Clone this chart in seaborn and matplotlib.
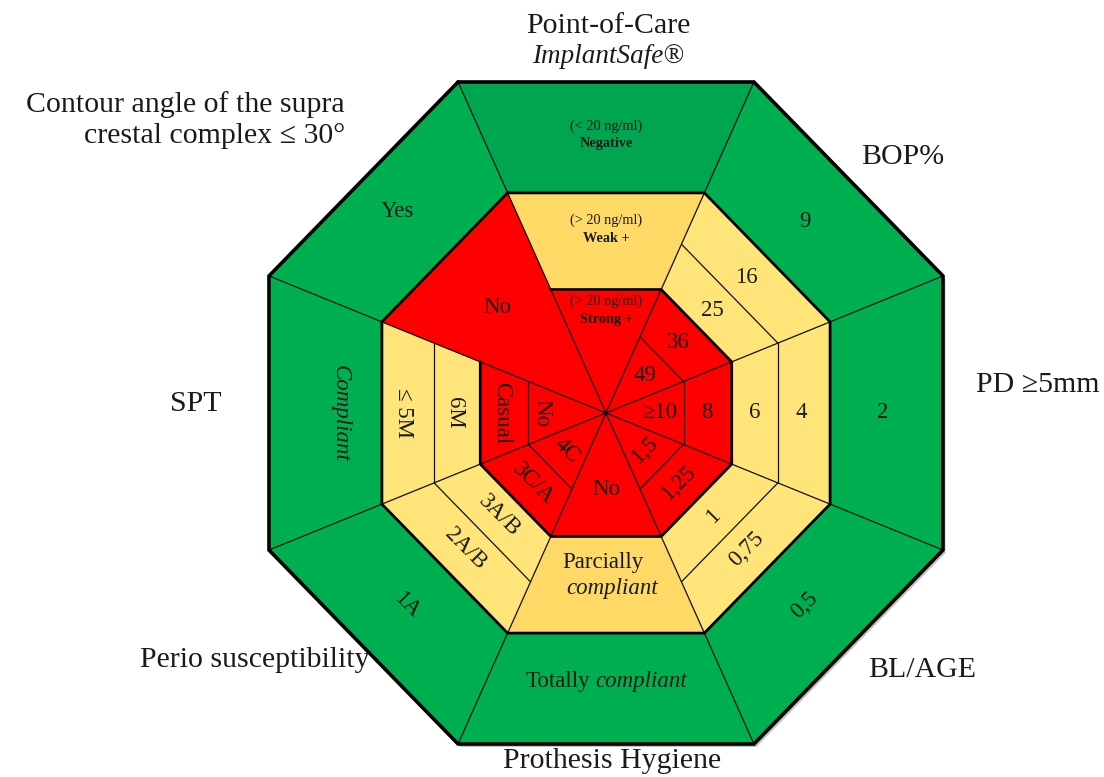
import numpy as np
import matplotlib
matplotlib.use("Agg")
import matplotlib.pyplot as plt
from matplotlib.patches import Polygon
import seaborn as sns

# ---- data: one list per axis, cells from the centre outwards ----
axis_names = ["Point-of-Care", "BOP%", "PD \u22655mm", "BL/AGE", "Prothesis Hygiene",
              "Perio susceptibility", "SPT",
              "Contour angle of the supra\ncrestal complex \u2264 30\u00b0"]
poc_labels = ["Strong +", "Weak +", "Negative"]
poc_ranges = ["(> 20 ng/ml)", "(> 20 ng/ml)", "(< 20 ng/ml)"]
bop_labels = ["49", "36", "25", "16", "9"]
pd_labels = ["\u226510", "8", "6", "4", "2"]
bl_age_labels = ["1,5", "1,25", "1", "0,75", "0,5"]
hygiene_labels = ["No", "Parcially compliant", "Totally compliant"]
perio_labels = ["4C", "3C/A", "3A/B", "2A/B", "1A"]
spt_labels = ["No", "Casual", "6M", "\u2264 5M", "Compliant"]
contour_labels = ["No", "Yes"]

# ---- layout ----
sns.set_theme(style="white")
plt.rcParams["font.family"] = ["Liberation Serif", "DejaVu Serif"]

cx, cy, sx, sy = 606, 413, 337, 331          # centre and half size in pixels
t_top, t_side = 0.439, 0.414                 # half lengths of the flat edges
unit = np.array([(-t_top, -1), (t_top, -1), (1, -t_side), (1, t_side),
                 (t_top, 1), (-t_top, 1), (-1, t_side), (-1, -t_side)])
ring = [0, 0.23, 0.373, 0.51, 0.665, 1.0]    # ring boundaries (apothem fraction)

RED, YELLOW, GOLD = "#FF0000", "#FFE47A", "#FFD966"
GREEN, GREEN_DARK = "#00B050", "#00A64F"
INK = "#1a1a1a"

# cells: (first band, last band, colour) for every sector
five = [(0, 1, RED), (1, 2, RED), (2, 3, YELLOW), (3, 4, YELLOW), (4, 5, GREEN)]
sector_cells = [
    [(0, 2, RED), (2, 4, GOLD), (4, 5, GREEN_DARK)],
    five, five, five,
    [(0, 2, RED), (2, 4, GOLD), (4, 5, GREEN)],
    five, five,
    [(0, 4, RED), (4, 5, GREEN)],
]
five_r = [0.16, 0.30, 0.44, 0.58, 0.82]
spt_r = [0.19, 0.31, 0.45, 0.60, 0.79]
label_r = [[0.31, 0.555, 0.84], five_r, five_r, five_r, [0.23, 0.49, 0.81],
           five_r, spt_r, [0.45, 0.86]]
label_rot = [0, 0, 0, 45, 0, -45, 270, 0]


def pts(r, idx):
    u = unit[np.array(idx) % 8] * r
    return np.column_stack([cx + sx * u[:, 0], cy + sy * u[:, 1]])


def anchor(k, r):
    m = (unit[k] + unit[(k + 1) % 8]) / 2
    return cx + sx * m[0] * r, cy + sy * m[1] * r


fig = plt.figure(figsize=(11.04, 7.77), dpi=100)
ax = fig.add_axes([0, 0, 1, 1])
ax.set_xlim(0, 1104)
ax.set_ylim(777, 0)
ax.axis("off")

# soft shadow under the octagon
shadow = pts(1.0, range(8)) + np.array([2.5, 3])
ax.add_patch(Polygon(shadow, closed=True, fc="#9a9a9a", ec="none", alpha=0.6, zorder=0))

for k, cells in enumerate(sector_cells):
    for a, b, col in cells:
        poly = np.vstack([pts(ring[a], [k, k + 1]), pts(ring[b], [k + 1, k])])
        ax.add_patch(Polygon(poly, closed=True, fc=col, ec=col, lw=0.4, zorder=1))

# thin lines: spokes and sub rings
for k in range(8):
    p = pts(1.0, [k])[0]
    ax.plot([cx, p[0]], [cy, p[1]], color="#111111", lw=0.9, zorder=2)
for k in [1, 2, 3, 5, 6]:
    for r in (ring[1], ring[3]):
        seg = pts(r, [k, k + 1])
        ax.plot(seg[:, 0], seg[:, 1], color="#111111", lw=0.9, zorder=2)

# thick rings
inner = pts(ring[2], range(8))
ax.plot(inner[:, 0], inner[:, 1], color="black", lw=2.0, zorder=3, solid_joinstyle="miter")
mid = pts(ring[4], list(range(8)) + [0])
ax.plot(mid[:, 0], mid[:, 1], color="black", lw=2.0, zorder=3, solid_joinstyle="miter")
outer = pts(1.0, list(range(8)) + [0])
ax.plot(outer[:, 0], outer[:, 1], color="black", lw=2.6, zorder=3, solid_joinstyle="miter")

renderer = fig.canvas.get_renderer()


def mixed_line(x, y, parts, size):
    objs = [ax.text(0, y, t, style=s, ha="left", va="center", fontsize=size,
                    color=INK, zorder=5) for t, s in parts]
    widths = [o.get_window_extent(renderer).width for o in objs]
    gap = size * 0.3
    start = x - (sum(widths) + gap * (len(objs) - 1)) / 2
    for o, w in zip(objs, widths):
        o.set_x(start)
        start += w + gap


lab_size = 16.5
plain = [None, bop_labels, pd_labels, bl_age_labels, None, perio_labels, spt_labels, contour_labels]
for k, labels in enumerate(plain):
    if labels is None:
        continue
    for lab, r in zip(labels, label_r[k]):
        x, y = anchor(k, r)
        italic = "italic" if lab == "Compliant" else "normal"
        ax.text(x, y, lab, ha="center", va="center", rotation=label_rot[k],
                rotation_mode="anchor", fontsize=lab_size, style=italic, color=INK, zorder=5)

# Point-of-Care cells: range line + bold result
for lab, rng, r in zip(poc_labels, poc_ranges, label_r[0]):
    x, y = anchor(0, r)
    ax.text(x, y - 9, rng, ha="center", va="center", fontsize=10.3, color=INK, zorder=5)
    ax.text(x, y + 9, lab, ha="center", va="center", fontsize=10.3, weight="bold", color=INK, zorder=5)

# Prothesis hygiene cells
x, y = anchor(4, label_r[4][0])
ax.text(x, y, hygiene_labels[0], ha="center", va="center", fontsize=lab_size, color=INK, zorder=5)
x, y = anchor(4, label_r[4][1])
w1, w2 = hygiene_labels[1].split()
ax.text(x - 3, y - 13, w1, ha="center", va="center", fontsize=lab_size, color=INK, zorder=5)
ax.text(x + 6, y + 13, w2, ha="center", va="center", fontsize=lab_size, style="italic", color=INK, zorder=5)
x, y = anchor(4, label_r[4][2])
w1, w2 = hygiene_labels[2].split()
mixed_line(x, y, [(w1, "normal"), (w2, "italic")], lab_size)

# axis names around the octagon
title_size = 21.5
ax.text(608, 33, axis_names[0], ha="center", va="baseline", fontsize=title_size, color=INK)
ax.text(608, 63, "ImplantSafe\u00ae", ha="center", va="baseline", fontsize=title_size - 2,
        style="italic", color=INK)
ax.text(903, 164, axis_names[1], ha="center", va="baseline", fontsize=title_size, color=INK)
ax.text(1038, 392, axis_names[2], ha="center", va="baseline", fontsize=title_size, color=INK)
ax.text(922, 677, axis_names[3], ha="center", va="baseline", fontsize=title_size, color=INK)
ax.text(612, 768, axis_names[4], ha="center", va="baseline", fontsize=title_size, color=INK)
ax.text(255, 667, axis_names[5], ha="center", va="baseline", fontsize=title_size, color=INK)
ax.text(196, 411, axis_names[6], ha="center", va="baseline", fontsize=title_size, color=INK)
line1, line2 = axis_names[7].split("\n")
ax.text(345, 112, line1, ha="right", va="baseline", fontsize=title_size, color=INK)
ax.text(345, 143, line2, ha="right", va="baseline", fontsize=title_size, color=INK)

fig.savefig("out.png", dpi=100, facecolor="white")
